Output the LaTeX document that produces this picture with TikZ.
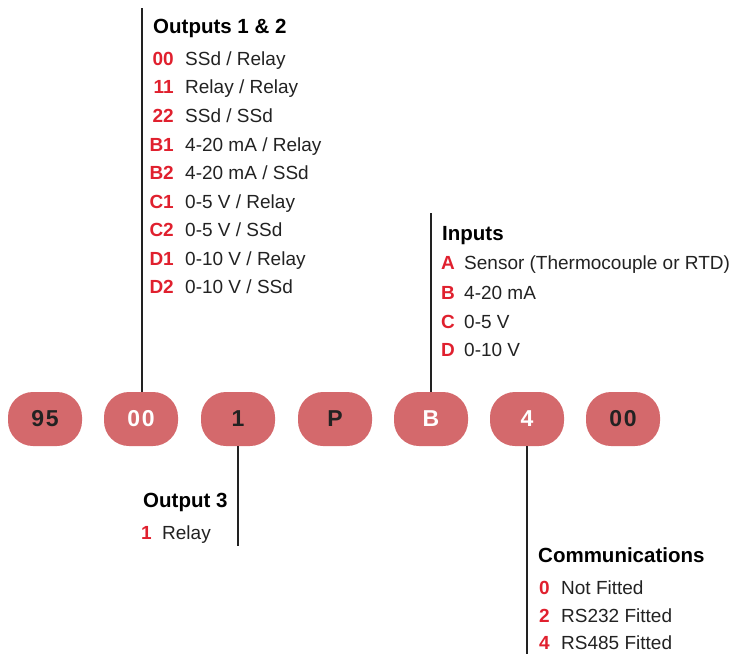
\documentclass[tikz,border=0pt]{standalone}
\usepackage{fontspec}
\setmainfont{Liberation Sans}
\newfontfamily\pillfont[LetterSpace=8]{Liberation Sans}
\definecolor{pillred}{HTML}{D4696C}
\definecolor{codered}{HTML}{E0202E}
\definecolor{ink}{HTML}{222222}
\begin{document}
\begin{tikzpicture}[x=1pt,y=-1pt,
  pillbox/.style={rectangle,rounded corners=25pt,minimum width=74pt,minimum height=54pt,
    fill=pillred,draw=none,inner sep=0,font=\pillfont\bfseries\fontsize{23}{26}\selectfont},
  dk/.style={text=ink},
  wt/.style={text=white},
  title/.style={anchor=base west,inner sep=0,text=black,font=\bfseries\fontsize{20.5}{24}\selectfont},
  codel/.style={inner sep=0,text=codered,font=\bfseries\fontsize{19}{22}\selectfont},
  desc/.style={anchor=base west,inner sep=0,text=ink,font=\fontsize{19}{22}\selectfont},
  stem/.style={draw=ink,line width=2.5pt}]
\useasboundingbox (0,0) rectangle (733,654);
% pills
\node[pillbox,dk] (p1) at (45,419) {95};
\node[pillbox,wt] (p2) at (141,419) {00};
\node[pillbox,dk] (p3) at (238,419) {1};
\node[pillbox,dk] (p4) at (335,419) {P};
\node[pillbox,wt] (p5) at (431,419) {B};
\node[pillbox,wt] (p6) at (527,419) {4};
\node[pillbox,dk] (p7) at (623,419) {00};
% stems
\coordinate (t1) at (142,8);
\coordinate (t2) at (431,213);
\coordinate (t3) at (238,546);
\coordinate (t4) at (527,654);
\draw[stem] (t1) -- (t1 |- p2.north);
\draw[stem] (t2) -- (t2 |- p5.north);
\draw[stem] (p3.south -| t3) -- (t3);
\draw[stem] (p6.south -| t4) -- (t4);
% Outputs 1 & 2
\node[title] (ot) at (153,33) {Outputs 1 \& 2};
\foreach \c/\d/\y [count=\i] in {00/{SSd / Relay}/59, 11/{Relay / Relay}/87, 22/{SSd / SSd}/116,
   B1/{4-20 mA / Relay}/145, B2/{4-20 mA / SSd}/173, C1/{0-5 V / Relay}/202, C2/{0-5 V / SSd}/230,
   D1/{0-10 V / Relay}/259, D2/{0-10 V / SSd}/287}{
  \node[codel,anchor=base east] (oc\i) at (174,\y+6.8) {\c};
  \node[desc] (od\i) at (185,\y+6.8) {\d};
}
% Inputs
\node[title] (it) at (442,240) {Inputs};
\foreach \c/\d/\y [count=\i] in {A/{Sensor (Thermocouple or RTD)}/263, B/{4-20 mA}/293, C/{0-5 V}/322, D/{0-10 V}/350}{
  \node[codel,anchor=base west] (ic\i) at (441,\y+6.8) {\c};
  \node[desc] (id\i) at (464,\y+6.8) {\d};
}
% Output 3
\node[title] (o3t) at (143,507) {Output 3};
\node[codel,anchor=base west] (o3c) at (141,539.8) {1};
\node[desc] (o3d) at (162,539.8) {Relay};
% Communications
\node[title] (ct) at (538,562) {Communications};
\foreach \c/\d/\y [count=\i] in {0/{Not Fitted}/588, 2/{RS232 Fitted}/616, 4/{RS485 Fitted}/643}{
  \node[codel,anchor=base west] (cc\i) at (539,\y+6.8) {\c};
  \node[desc] (cd\i) at (561,\y+6.8) {\d};
}
\end{tikzpicture}
\end{document}
